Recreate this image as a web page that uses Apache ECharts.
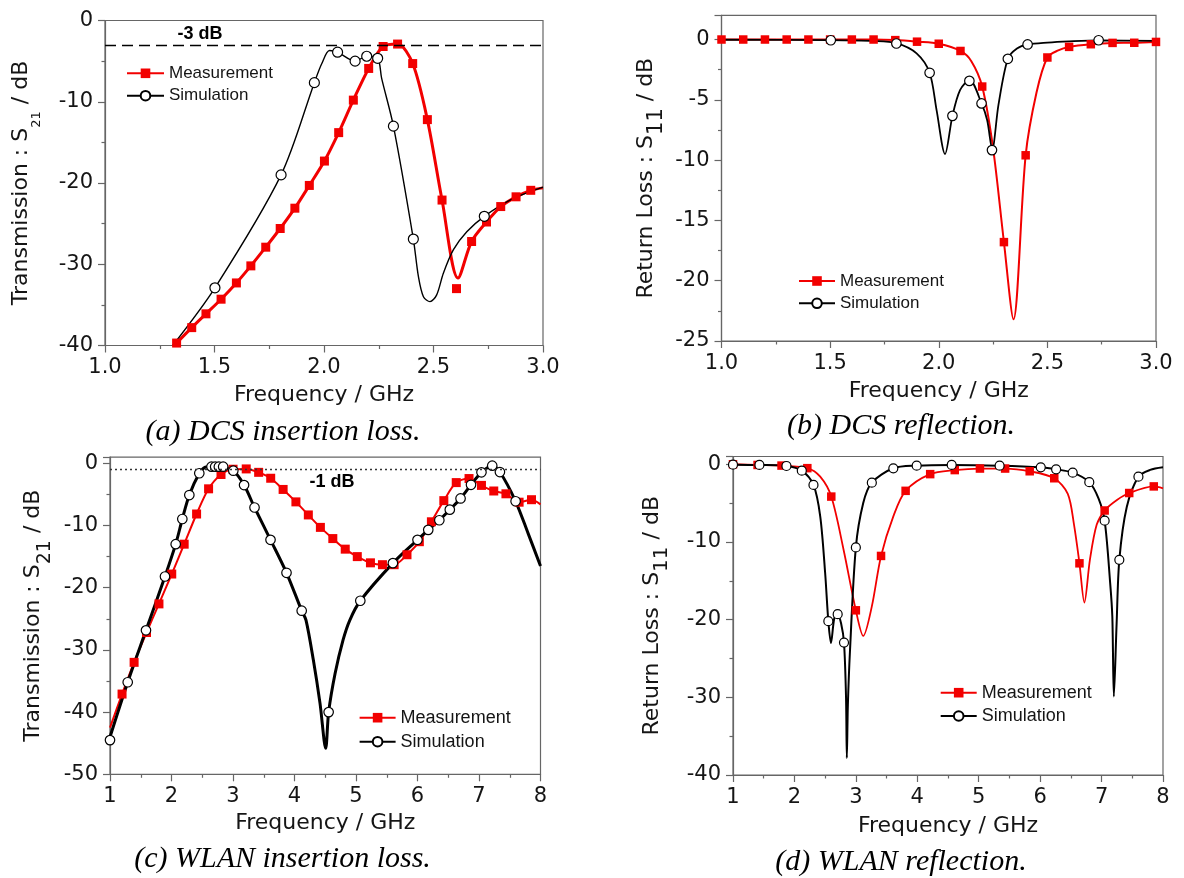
<!DOCTYPE html>
<html>
<head>
<meta charset="utf-8">
<script src="https://cdn.jsdelivr.net/npm/echarts@6/dist/echarts.min.js"></script>
<style>
  html, body { margin: 0; padding: 0; background: #ffffff; }
  #chart { width: 1184px; height: 878px; }
</style>
</head>
<body>
<div id="chart"></div>
<script>
// ---------- (a) DCS insertion loss, S21 (dB) vs frequency (GHz) ----------
const dcsS21MeasF  = [1.327,1.396,1.461,1.530,1.600,1.666,1.734,1.800,1.867,1.933,2.002,2.067,2.134,2.204,2.270,2.336,2.405,2.472,2.539,2.605,2.674,2.742,2.807,2.877,2.944];
const dcsS21MeasDb = [-39.7,-37.8,-36.1,-34.3,-32.3,-30.2,-27.9,-25.6,-23.1,-20.3,-17.3,-13.8,-9.8,-5.9,-3.2,-2.9,-5.3,-12.2,-22.1,-33.0,-27.2,-24.8,-22.9,-21.7,-20.9];
const dcsS21MeasTraceF  = [1.327,1.396,1.461,1.530,1.600,1.666,1.734,1.800,1.867,1.933,2.002,2.067,2.134,2.204,2.270,2.336,2.405,2.472,2.539,2.612,2.674,2.742,2.807,2.877,2.944,3.0];
const dcsS21MeasTraceDb = [-39.7,-37.8,-36.1,-34.3,-32.3,-30.2,-27.9,-25.6,-23.1,-20.3,-17.3,-13.8,-9.8,-5.9,-3.2,-2.9,-5.3,-12.2,-22.1,-31.7,-27.2,-24.8,-22.9,-21.7,-20.9,-20.6];
const dcsS21SimF  = [1.502,1.804,1.956,2.062,2.142,2.195,2.245,2.317,2.408,2.732];
const dcsS21SimDb = [-32.9,-19.0,-7.65,-3.9,-5.0,-4.4,-4.65,-13.0,-26.9,-24.1];
const dcsS21SimTraceF  = [1.309,1.502,1.804,1.956,1.99,2.025,2.062,2.142,2.195,2.245,2.263,2.317,2.408,2.431,2.454,2.484,2.514,2.545,2.591,2.652,2.732,2.865,3.0];
const dcsS21SimTraceDb = [-40.0,-32.9,-19.0,-7.65,-5.3,-3.7,-3.9,-5.0,-4.4,-4.65,-7.1,-13.0,-26.9,-31.5,-34.0,-34.6,-33.8,-31.1,-28.2,-26.0,-24.1,-21.9,-20.5];
const dcsRefLevel = -3;
const dcsRefLabel = '-3 dB';
const dcsRefLabelAt = [1.434, -1.66];

// ---------- (b) DCS reflection, S11 (dB) ----------
const dcsS11MeasF  = [1.0,1.1,1.2,1.3,1.4,1.5,1.6,1.7,1.8,1.9,2.0,2.1,2.2,2.3,2.4,2.5,2.6,2.7,2.8,2.9,3.0];
const dcsS11MeasDb = [0,0,0,0,0,0,0,0,-0.05,-0.18,-0.35,-0.95,-3.9,-16.8,-9.6,-1.49,-0.61,-0.39,-0.28,-0.27,-0.2];
const dcsS11MeasTraceF  = [1.0,1.1,1.2,1.3,1.4,1.5,1.6,1.7,1.8,1.9,2.0,2.1,2.15,2.2,2.25,2.3,2.344,2.4,2.45,2.5,2.55,2.6,2.7,2.8,2.9,3.0];
const dcsS11MeasTraceDb = [0,0,0,0,0,0,0,0,-0.05,-0.18,-0.35,-0.95,-1.8,-3.9,-9.0,-16.8,-23.2,-9.6,-4.4,-1.49,-0.9,-0.61,-0.39,-0.28,-0.27,-0.2];
const dcsS11SimF  = [1.503,1.805,1.958,2.063,2.141,2.197,2.245,2.318,2.409,2.736];
const dcsS11SimDb = [-0.06,-0.33,-2.76,-6.33,-3.43,-5.3,-9.17,-1.6,-0.41,-0.06];
const dcsS11SimTraceF  = [1.0,1.5,1.7,1.805,1.898,1.958,1.99,2.029,2.063,2.098,2.142,2.197,2.223,2.246,2.275,2.318,2.36,2.409,2.5,2.6,2.736,3.0];
const dcsS11SimTraceDb = [-0.02,-0.05,-0.12,-0.3,-1.15,-2.76,-5.85,-9.5,-6.33,-4.2,-3.36,-5.3,-6.7,-9.1,-5.4,-1.6,-0.75,-0.41,-0.25,-0.15,-0.07,-0.12];

// ---------- (c) WLAN insertion loss, S21 (dB) ----------
const wlanS21MeasF  = [1.196,1.392,1.594,1.796,2.004,2.206,2.408,2.603,2.805,3.001,3.215,3.417,3.613,3.815,4.023,4.225,4.421,4.623,4.825,5.021,5.235,5.43,5.62,5.829,6.03,6.226,6.428,6.63,6.838,7.04,7.24,7.438,7.652,7.854];
const wlanS21MeasDb = [-37.1,-32.0,-27.2,-22.6,-17.8,-13.0,-8.15,-4.1,-1.8,-0.95,-0.9,-1.45,-2.4,-4.2,-6.2,-8.3,-10.3,-12.1,-13.8,-15.0,-16.0,-16.3,-16.3,-14.7,-12.6,-9.4,-6.0,-3.1,-2.45,-3.55,-4.45,-4.9,-6.25,-5.85];
const wlanS21MeasTraceF  = [1.0].concat(wlanS21MeasF, [8.0]);
const wlanS21MeasTraceDb = [-42.5].concat(wlanS21MeasDb, [-6.6]);
const wlanS21SimF  = [1.0,1.288,1.585,1.894,2.068,2.176,2.29,2.452,2.65,2.71,2.77,2.84,3.005,3.18,3.35,3.61,3.87,4.117,4.555,5.07,5.6,6.0,6.175,6.355,6.525,6.7,6.87,7.04,7.215,7.34,7.595];
const wlanS21SimDb = [-44.5,-35.2,-26.85,-18.2,-13.0,-8.95,-5.1,-1.6,-0.54,-0.54,-0.54,-0.54,-1.19,-3.5,-7.1,-12.3,-17.6,-23.7,-40.0,-22.1,-16.05,-12.3,-10.7,-9.15,-7.45,-5.65,-3.45,-1.45,-0.38,-1.4,-6.1];
const wlanS21SimTraceF  = [1.0,1.288,1.585,1.894,2.068,2.176,2.29,2.452,2.55,2.65,2.75,2.84,3.005,3.18,3.35,3.61,3.87,4.117,4.187,4.306,4.415,4.507,4.555,4.66,4.79,4.90,5.07,5.6,6.0,6.175,6.355,6.525,6.7,6.87,7.04,7.215,7.34,7.595,7.8,8.0];
const wlanS21SimTraceDb = [-44.0,-35.2,-26.85,-18.2,-13.0,-8.95,-5.1,-1.6,-0.6,-0.5,-0.5,-0.6,-1.19,-3.5,-7.1,-12.3,-17.6,-23.7,-25.2,-31.6,-38.6,-45.8,-40.0,-33.8,-28.4,-25.2,-22.1,-16.05,-12.3,-10.7,-9.15,-7.45,-5.65,-3.45,-1.45,-0.38,-1.4,-6.1,-11.3,-16.5];
const wlanRefLevel = -1;
const wlanRefLabel = '-1 dB';
const wlanRefLabelAt = [4.61, -3.0];

// ---------- (d) WLAN reflection, S11 (dB) ----------
const wlanS11MeasF  = [1.0,1.40,1.79,2.21,2.6,3.0,3.41,3.81,4.21,4.61,5.02,5.43,5.83,6.23,6.64,7.05,7.45,7.85];
const wlanS11MeasDb = [0,-0.09,-0.17,-0.5,-4.16,-18.8,-11.8,-3.42,-1.27,-0.75,-0.55,-0.55,-0.9,-1.8,-12.75,-5.95,-3.7,-2.85];
const wlanS11MeasTraceF  = [1.0,1.4,1.79,2.21,2.42,2.6,2.8,3.0,3.12,3.26,3.41,3.61,3.81,4.21,4.61,5.02,5.43,5.83,6.23,6.45,6.55,6.64,6.72,6.81,6.92,7.05,7.25,7.45,7.85,8.0];
const wlanS11MeasTraceDb = [0,-0.09,-0.17,-0.5,-1.6,-4.16,-11.0,-18.8,-22.1,-18.3,-11.8,-6.7,-3.42,-1.27,-0.75,-0.55,-0.55,-0.9,-1.8,-3.8,-7.7,-12.75,-17.8,-12.3,-7.8,-5.95,-4.6,-3.7,-2.85,-3.1];
const wlanS11SimF  = [1.0,1.43,1.87,2.12,2.31,2.552,2.704,2.807,3.0,3.26,3.61,3.99,4.56,5.34,6.01,6.26,6.53,6.80,7.05,7.289,7.6];
const wlanS11SimDb = [-0.05,-0.09,-0.22,-0.82,-2.66,-20.2,-19.3,-22.95,-10.7,-2.37,-0.52,-0.18,-0.09,-0.18,-0.39,-0.65,-1.08,-2.3,-7.26,-12.3,-1.6];
const wlanS11SimTraceF  = [1.0,1.43,1.87,2.12,2.31,2.42,2.5,2.552,2.595,2.65,2.704,2.76,2.807,2.84,2.853,2.87,2.905,3.0,3.12,3.26,3.61,3.99,4.56,5.34,6.01,6.26,6.53,6.80,6.95,7.05,7.14,7.175,7.2,7.245,7.289,7.41,7.6,7.79,8.0];
const wlanS11SimTraceDb = [-0.05,-0.09,-0.22,-0.82,-2.66,-6.7,-14.0,-20.2,-23.0,-19.8,-19.3,-20.5,-22.95,-30.0,-37.8,-31.0,-23.9,-10.7,-5.0,-2.37,-0.52,-0.18,-0.09,-0.18,-0.39,-0.65,-1.08,-2.3,-4.4,-7.26,-15.3,-19.6,-29.9,-20.5,-12.3,-5.5,-1.6,-0.73,-0.39];

// ---------- labels ----------
const captions = ['(a) DCS insertion loss.', '(b) DCS reflection.', '(c) WLAN insertion loss.', '(d) WLAN reflection.'];
const xTitle = 'Frequency / GHz';
const legendNames = ['Measurement', 'Simulation'];

// ---------- styling ----------
const RED = '#f20000';
const BLACK = '#000000';
const AXIS_COLOR = '#666666';
const TEXT_COLOR = '#151515';
const SANS = '"DejaVu Sans", sans-serif';
const LEGEND_FONT = '"Liberation Sans", Arial, sans-serif';
const SERIF = '"Liberation Serif", "Times New Roman", serif';

const pairs = (f, v) => f.map((x, i) => [x, v[i]]);

const layout = [
  { key: 'a', grid: { left: 105,   top: 20.5,  width: 438,   height: 325 },
    x: [1, 3, 0.5, 1], y: [-40, 0, 10],  yMain: 'Transmission : S', ySub: '21', subSize: 13, subShift: 15, yGap: 62, xGap: 39,
    redW: 3, blackW: 1.4, sq: 9, circ: 10,
    legend: { left: 126, top: 64.3, gap: 4.4, w: 37, fs: 17 }, cap: [283, 432] },
  { key: 'b', grid: { left: 721.5, top: 15.4,  width: 434.5, height: 325.6 },
    x: [1, 3, 0.5, 1], y: [-25, 2, 5],   yMain: 'Return Loss : S', ySub: '11', subSize: 21, subShift: 11, yGap: 54, xGap: 39,
    redW: 2, blackW: 1.8, sq: 8.5, circ: 9.5,
    legend: { left: 798, top: 272, gap: 4.3, w: 36, fs: 17 }, cap: [901, 426] },
  { key: 'c', grid: { left: 110,   top: 457.1, width: 430.5, height: 317.2 },
    x: [1, 8, 1, 0],   y: [-50, 1, 10],  yMain: 'Transmission : S', ySub: '21', subSize: 19, subShift: 12, yGap: 55, xGap: 38,
    redW: 2, blackW: 3, sq: 9, circ: 9.5,
    legend: { left: 358.6, top: 708.7, gap: 6, w: 36, fs: 18 }, cap: [282.5, 859] },
  { key: 'd', grid: { left: 733,   top: 456.5, width: 430,   height: 318.5 },
    x: [1, 8, 1, 0],   y: [-40, 1, 10],  yMain: 'Return Loss : S', ySub: '11', subSize: 20, subShift: 10, yGap: 61, xGap: 40,
    redW: 1.8, blackW: 2, sq: 8.5, circ: 9,
    legend: { left: 939.7, top: 683.7, gap: 5.3, w: 36, fs: 18 }, cap: [901, 862] }
];

const panelData = {
  a: { mTrace: pairs(dcsS21MeasTraceF, dcsS21MeasTraceDb), mPts: pairs(dcsS21MeasF, dcsS21MeasDb),
       sTrace: pairs(dcsS21SimTraceF, dcsS21SimTraceDb),   sPts: pairs(dcsS21SimF, dcsS21SimDb) },
  b: { mTrace: pairs(dcsS11MeasTraceF, dcsS11MeasTraceDb), mPts: pairs(dcsS11MeasF, dcsS11MeasDb),
       sTrace: pairs(dcsS11SimTraceF, dcsS11SimTraceDb),   sPts: pairs(dcsS11SimF, dcsS11SimDb) },
  c: { mTrace: pairs(wlanS21MeasTraceF, wlanS21MeasTraceDb), mPts: pairs(wlanS21MeasF, wlanS21MeasDb),
       sTrace: pairs(wlanS21SimTraceF, wlanS21SimTraceDb),   sPts: pairs(wlanS21SimF, wlanS21SimDb) },
  d: { mTrace: pairs(wlanS11MeasTraceF, wlanS11MeasTraceDb), mPts: pairs(wlanS11MeasF, wlanS11MeasDb),
       sTrace: pairs(wlanS11SimTraceF, wlanS11SimTraceDb),   sPts: pairs(wlanS11SimF, wlanS11SimDb) }
};

const grids = [], xAxes = [], yAxes = [], series = [], legends = [], graphics = [];

layout.forEach((p, i) => {
  grids.push(Object.assign({ show: true, borderColor: AXIS_COLOR, borderWidth: 1.2, backgroundColor: 'transparent' }, p.grid));

  const tickCommon = {
    axisLine: { show: true, onZero: false, lineStyle: { color: AXIS_COLOR, width: 1.2 } },
    axisTick: { show: true, inside: false, length: 7, lineStyle: { color: AXIS_COLOR, width: 1.2 } },
    minorTick: { show: true, splitNumber: 2, length: 3.5, lineStyle: { color: AXIS_COLOR, width: 1.2 } },
    splitLine: { show: false }
  };

  xAxes.push(Object.assign({
    type: 'value', gridIndex: i, min: p.x[0], max: p.x[1], interval: p.x[2],
    name: xTitle, nameLocation: 'middle', nameGap: p.xGap,
    nameTextStyle: { fontFamily: SANS, fontSize: 22, color: TEXT_COLOR },
    axisLabel: { margin: 12, fontFamily: SANS, fontSize: 21, color: TEXT_COLOR,
                 formatter: v => v.toFixed(p.x[3]) }
  }, tickCommon));

  yAxes.push(Object.assign({
    type: 'value', gridIndex: i, min: p.y[0], max: p.y[1], interval: p.y[2],
    name: '{m|' + p.yMain + '}{s|' + p.ySub + '}{m| / dB}',
    nameLocation: 'middle', nameRotate: 90, nameGap: p.yGap,
    nameTextStyle: {
      fontFamily: SANS, fontSize: 22, color: TEXT_COLOR,
      rich: {
        m: { fontFamily: SANS, fontSize: 22, color: TEXT_COLOR },
        s: { fontFamily: SANS, fontSize: p.subSize, color: TEXT_COLOR, padding: [2 * p.subShift, 0, 0, 0] }
      }
    },
    axisLabel: { margin: 12, fontFamily: SANS, fontSize: 21, color: TEXT_COLOR, showMaxLabel: p.y[1] === 0 }
  }, tickCommon));

  const d = panelData[p.key];
  const mName = legendNames[0] + '|' + p.key;
  const sName = legendNames[1] + '|' + p.key;

  const simLine = {
    name: sName, type: 'line', xAxisIndex: i, yAxisIndex: i, data: d.sTrace,
    smooth: 0.3, symbol: 'emptyCircle', showSymbol: false, silent: true, z: 2,
    lineStyle: { color: BLACK, width: p.blackW }, itemStyle: { color: BLACK }
  };
  const measLine = {
    name: mName, type: 'line', xAxisIndex: i, yAxisIndex: i, data: d.mTrace,
    smooth: 0.3, symbol: 'rect', showSymbol: false, silent: true, z: 2,
    lineStyle: { color: RED, width: p.redW }, itemStyle: { color: RED }
  };

  if (p.key === 'a') {
    simLine.markLine = {
      silent: true, symbol: ['none', 'none'], label: { show: false },
      lineStyle: { color: BLACK, type: [11, 6], width: 1.3 },
      data: [{ yAxis: dcsRefLevel }]
    };
    simLine.markPoint = {
      silent: true, symbol: 'circle', symbolSize: 0,
      label: { show: true, position: 'inside', formatter: dcsRefLabel, fontFamily: LEGEND_FONT,
               fontWeight: 'bold', fontSize: 18, color: BLACK },
      data: [{ coord: dcsRefLabelAt }]
    };
  }
  if (p.key === 'c') {
    simLine.markLine = {
      silent: true, symbol: ['none', 'none'], label: { show: false },
      lineStyle: { color: '#333333', type: [2, 3], width: 1.3 },
      data: [{ yAxis: wlanRefLevel }]
    };
    simLine.markPoint = {
      silent: true, symbol: 'circle', symbolSize: 0,
      label: { show: true, position: 'inside', formatter: wlanRefLabel, fontFamily: LEGEND_FONT,
               fontWeight: 'bold', fontSize: 18, color: BLACK },
      data: [{ coord: wlanRefLabelAt }]
    };
  }

  series.push(measLine, simLine);
  series.push({
    type: 'scatter', xAxisIndex: i, yAxisIndex: i, data: d.mPts, silent: true, z: 3,
    symbol: 'rect', symbolSize: p.sq, itemStyle: { color: RED, opacity: 1 }
  });
  series.push({
    type: 'scatter', xAxisIndex: i, yAxisIndex: i, data: d.sPts, silent: true, z: 4,
    symbol: 'circle', symbolSize: p.circ,
    itemStyle: { color: '#ffffff', borderColor: BLACK, borderWidth: 1.2, opacity: 1 }
  });

  legends.push({
    data: [mName, sName], orient: 'vertical', left: p.legend.left, top: p.legend.top, padding: 0,
    itemWidth: p.legend.w, itemHeight: 12, itemGap: p.legend.gap, selectedMode: false,
    formatter: n => n.split('|')[0],
    textStyle: { fontFamily: LEGEND_FONT, fontSize: p.legend.fs, lineHeight: 18, color: TEXT_COLOR }
  });

  graphics.push({
    type: 'text', x: p.cap[0], y: p.cap[1], silent: true,
    style: { text: captions[i], font: 'italic 30px ' + SERIF, fill: '#000000',
             textAlign: 'center', textVerticalAlign: 'middle', align: 'center', verticalAlign: 'middle' }
  });
});

const chart = echarts.init(document.getElementById('chart'), null, { renderer: 'canvas', width: 1184, height: 878 });
chart.setOption({
  backgroundColor: '#ffffff',
  animation: false,
  grid: grids,
  xAxis: xAxes,
  yAxis: yAxes,
  legend: legends,
  series: series,
  graphic: graphics
});
</script>
</body>
</html>
